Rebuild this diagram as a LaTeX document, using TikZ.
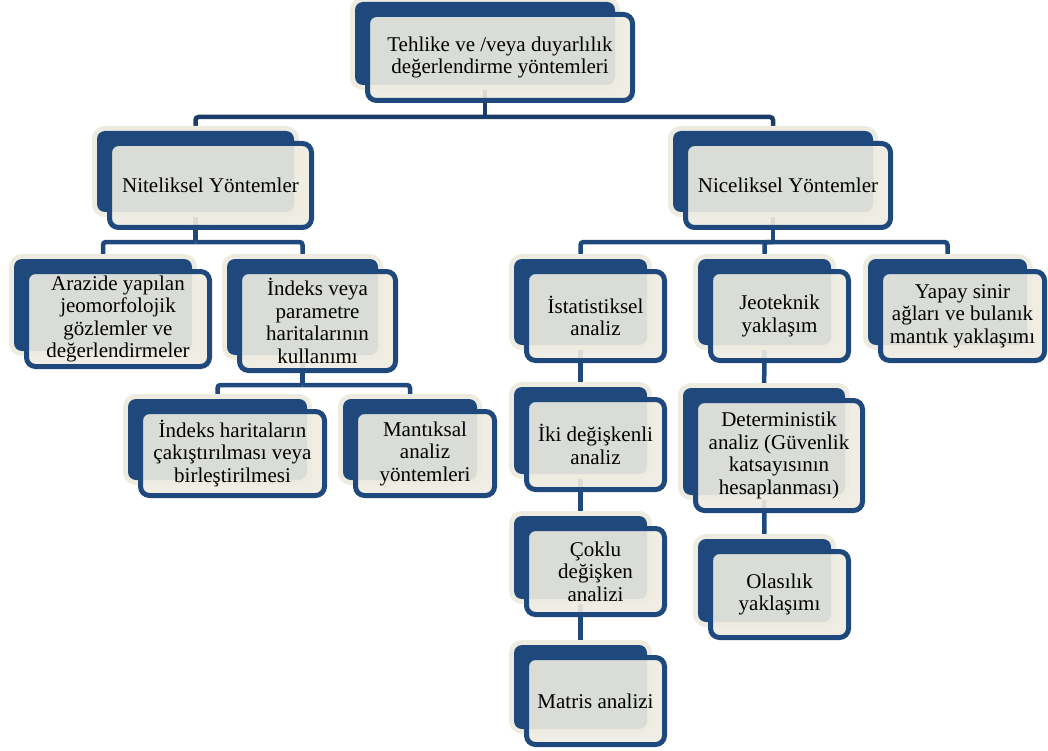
\documentclass[tikz,border=0pt]{standalone}
\usepackage{fontspec}
\setmainfont{Liberation Serif}
\definecolor{navy}{HTML}{1F497D}
\definecolor{navydark}{HTML}{1B3D69}
\definecolor{cream}{HTML}{EEECE1}
\pgfdeclarelayer{conn}
\pgfdeclarelayer{back}
\pgfsetlayers{conn,back,main}
\tikzset{
  backbox/.style={shape=rectangle, fill=navy, rounded corners=8pt,
    preaction={draw=cream, line width=10pt}, inner sep=0pt, outer sep=0pt},
  frontbox/.style={shape=rectangle, draw=navy, line width=5pt, fill=cream,
    fill opacity=0.9, text opacity=1, rounded corners=9pt, align=center,
    inner sep=2pt, outer sep=0pt, text=black,
    font=\fontsize{21}{22.5}\selectfont},
  conn/.style={draw=navy, line width=4.5pt, rounded corners=3pt},
  topconn/.style={conn, draw=navydark}
}
% \mkbox{name}{x1}{y1}{x2}{y2}{text}: front card with its darker card behind
\newcommand\mkbox[6]{%
  \begin{pgfonlayer}{back}
    \node[backbox, minimum width={(#4-#2-10)*1pt}, minimum height={(#5-#3-8)*1pt}]
      (#1b) at ({(#2+#4)/2-15},{(#3+#5)/2-14}) {};
  \end{pgfonlayer}
  \node[frontbox, minimum width={(#4-#2-5)*1pt}, minimum height={(#5-#3-5)*1pt}]
    (#1) at ({(#2+#4)/2},{(#3+#5)/2}) {#6};
}
\begin{document}
\begin{tikzpicture}[x=1pt,y=-1pt]
\useasboundingbox (0,0) rectangle (1048,751);

\mkbox{top}{365}{12}{635}{103}{Tehlike ve /veya duyarlılık\\değerlendirme yöntemleri}
\mkbox{nit}{107}{141}{314}{230}{Niteliksel Yöntemler}
\mkbox{nic}{683}{141}{893}{230}{Niceliksel Yöntemler}
\mkbox{ara}{24}{269}{212}{369}{Arazide yapılan\\jeomorfolojik\\gözlemler ve\\değerlendirmeler}
\mkbox{ind}{237}{269}{398}{373}{İndeks veya\\parametre\\haritalarının\\kullanımı}
\mkbox{ih}{138}{409}{327}{498}{İndeks haritaların\\çakıştırılması veya\\birleştirilmesi}
\mkbox{man}{353}{409}{497}{498}{Mantıksal\\analiz\\yöntemleri}
\mkbox{ist}{524}{269}{667}{363}{İstatistiksel\\analiz}
\mkbox{jeo}{708}{269}{851}{363}{Jeoteknik\\yaklaşım}
\mkbox{yap}{878}{269}{1047}{363}{Yapay sinir\\ağları ve bulanık\\mantık yaklaşımı}
\mkbox{iki}{524}{397}{667}{492}{İki değişkenli\\analiz}
\mkbox{det}{693}{398}{865}{513}{Deterministik\\analiz (Güvenlik\\katsayısının\\hesaplanması)}
\mkbox{cok}{524}{526}{667}{617}{Çoklu\\değişken\\analizi}
\mkbox{mat}{524}{655}{667}{747}{Matris analizi}
\mkbox{ola}{708}{549}{851}{640}{Olasılık\\yaklaşımı}

% bus levels
\coordinate (busA) at (0,117);
\coordinate (busB) at (0,242);
\coordinate (busC) at (0,385);

\begin{pgfonlayer}{conn}
  % root to the two method families
  \draw[topconn] (topb.center) -- (topb.center |- busA);
  \draw[topconn] (topb.center |- busA) -| (nitb.center);
  \draw[topconn] (topb.center |- busA) -| (nicb.center);
  % qualitative branch
  \draw[conn] (nitb.center) -- (nitb.center |- busB);
  \draw[conn] (nitb.center |- busB) -| (arab.center);
  \draw[conn] (nitb.center |- busB) -| (indb.center);
  \draw[conn] (indb.center) -- (indb.center |- busC);
  \draw[conn] (indb.center |- busC) -| (ihb.center);
  \draw[conn] (indb.center |- busC) -| (manb.center);
  % quantitative branch
  \draw[conn] (nicb.center) -- (nicb.center |- busB);
  \draw[conn] (nicb.center |- busB) -| (istb.center);
  \draw[conn] (nicb.center |- busB) -| (jeob.center);
  \draw[conn] (nicb.center |- busB) -| (yapb.center);
  % vertical chains
  \draw[conn] (istb.center) -- (ikib.center);
  \draw[conn] (ikib.center) -- (cokb.center);
  \draw[conn] (cokb.center) -- (matb.center);
  \draw[conn] (jeob.center) -- (detb.center);
  \draw[conn] (detb.center) -- (olab.center);
\end{pgfonlayer}
\end{tikzpicture}
\end{document}
